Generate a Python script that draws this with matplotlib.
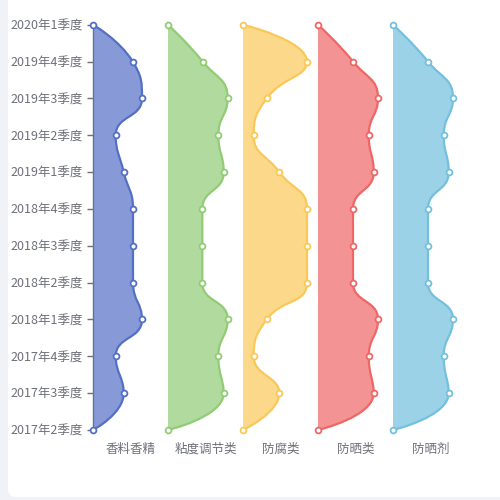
import matplotlib
matplotlib.use("Agg")
import matplotlib.pyplot as plt
import numpy as np
from matplotlib.path import Path
from matplotlib.patches import PathPatch, FancyBboxPatch

plt.rcParams['font.family'] = ['Noto Sans CJK SC', 'DejaVu Sans']

# categories from bottom to top
quarters = ["2017年2季度", "2017年3季度", "2017年4季度", "2018年1季度",
            "2018年2季度", "2018年3季度", "2018年4季度", "2019年1季度",
            "2019年2季度", "2019年3季度", "2019年4季度", "2020年1季度"]
series_names = ["香料香精", "粘度调节类", "防腐类", "防晒类", "防晒剂"]
xiangliao = [0, 30.7, 22.7, 49, 40, 40, 40, 30.7, 22.7, 49, 39.7, 0]
niandu = [0, 55.7, 50.3, 59.7, 34.3, 34.3, 34.3, 55.7, 50.3, 59.7, 34.7, 0]
fangfu = [0, 36.3, 10.7, 23.7, 64, 64, 64, 36.3, 10.7, 23.7, 64, 0]
fangshailei = [0, 55.7, 50.7, 60, 35, 35, 35, 55.7, 50.7, 60, 35, 0]
fangshaiji = [0, 55.7, 50.7, 60, 35, 35, 35, 55.7, 50.7, 60, 35, 0]
series_values = [xiangliao, niandu, fangfu, fangshailei, fangshaiji]
colors = ["#5470c6", "#91cc75", "#fac858", "#ee6666", "#73c0de"]

COL_W = 75.0
TXT = "#6e7079"

fig = plt.figure(figsize=(5, 5), dpi=100)
fig.patch.set_facecolor("#f1f2f7")
card = FancyBboxPatch((8 / 500, 3 / 500), 1.2, 1.2,
                      boxstyle="round,pad=0,rounding_size=0.016",
                      transform=fig.transFigure, facecolor="white",
                      edgecolor="none", zorder=-5)
fig.patches.append(card)

ax = fig.add_axes([93 / 500, 70 / 500, 375 / 500, (430 - 24.7) / 500])
ax.set_zorder(2)
ax.set_facecolor("none")
ax.set_xlim(0, COL_W * len(series_names))
ax.set_ylim(0, len(quarters) - 1)

for s in ["top", "right", "bottom"]:
    ax.spines[s].set_visible(False)
ax.spines["left"].set_color(TXT)
ax.spines["left"].set_linewidth(1)
ax.spines["left"].set_zorder(1)

ax.set_yticks(range(len(quarters)))
ax.set_yticklabels(quarters, fontsize=9, color="#6e7079")
ax.tick_params(axis="y", length=4, width=1, color=TXT, pad=3)
centers = [i * COL_W + COL_W / 2 for i in range(len(series_names))]
ax.set_xticks(centers)
ax.set_xticklabels(series_names, fontsize=9, color="#6e7079")
ax.tick_params(axis="x", length=0, pad=9)


def echarts_smooth(pts, smooth=0.5):
    """ECharts v5 smooth bezier in display coords. Returns vertices, codes."""
    verts = [tuple(pts[0])]
    codes = [Path.MOVETO]
    n = len(pts)
    cpx0, cpy0 = pts[0]
    prevX, prevY = pts[0]
    for k in range(1, n):
        x, y = pts[k]
        if k + 1 >= n:
            cpx1, cpy1 = x, y
            nextCpx0, nextCpy0 = x, y
        else:
            nextX, nextY = pts[k + 1]
            vx = nextX - prevX
            vy = nextY - prevY
            dx0 = x - prevX; dy0 = y - prevY
            dx1 = nextX - x; dy1 = nextY - y
            lenPrev = np.hypot(dx0, dy0)
            lenNext = np.hypot(dx1, dy1)
            ratio = lenNext / (lenNext + lenPrev)
            nextCpx0 = x + vx * smooth * ratio
            nextCpy0 = y + vy * smooth * ratio
            nextCpx0 = min(nextCpx0, max(nextX, x)); nextCpy0 = min(nextCpy0, max(nextY, y))
            nextCpx0 = max(nextCpx0, min(nextX, x)); nextCpy0 = max(nextCpy0, min(nextY, y))
            vx = nextCpx0 - x; vy = nextCpy0 - y
            cpx1 = x - vx * lenPrev / lenNext
            cpy1 = y - vy * lenPrev / lenNext
            cpx1 = min(cpx1, max(prevX, x)); cpy1 = min(cpy1, max(prevY, y))
            cpx1 = max(cpx1, min(prevX, x)); cpy1 = max(cpy1, min(prevY, y))
            vx = x - cpx1; vy = y - cpy1
            nextCpx0 = x + vx * lenNext / lenPrev
            nextCpy0 = y + vy * lenNext / lenPrev
        verts += [(cpx0, cpy0), (cpx1, cpy1), (x, y)]
        codes += [Path.CURVE4] * 3
        cpx0, cpy0 = nextCpx0, nextCpy0
        prevX, prevY = x, y
    return verts, codes


inv = ax.transData.inverted()
ys = np.arange(len(quarters))
for i, (vals, col) in enumerate(zip(series_values, colors)):
    base = i * COL_W
    xs = base + np.array(vals, dtype=float)
    disp = ax.transData.transform(np.column_stack([xs, ys]))
    verts, codes = echarts_smooth(disp)
    dverts = inv.transform(np.array(verts))
    curve = Path(dverts, codes)
    # fill
    fverts = list(map(tuple, dverts)) + [(base, ys[-1]), (base, ys[0]), (base, ys[0])]
    fcodes = list(codes) + [Path.LINETO, Path.LINETO, Path.CLOSEPOLY]
    ax.add_patch(PathPatch(Path(fverts, fcodes), facecolor=col, alpha=0.7,
                           edgecolor="none", zorder=2))
    ax.add_patch(PathPatch(curve, facecolor="none", edgecolor=col, lw=1.6, zorder=3))
    ax.plot(xs, ys, linestyle="none", marker="o", ms=4.2, mfc="white",
            mec=col, mew=1.3, zorder=4, clip_on=False)

fig.savefig("out.png", dpi=100)
